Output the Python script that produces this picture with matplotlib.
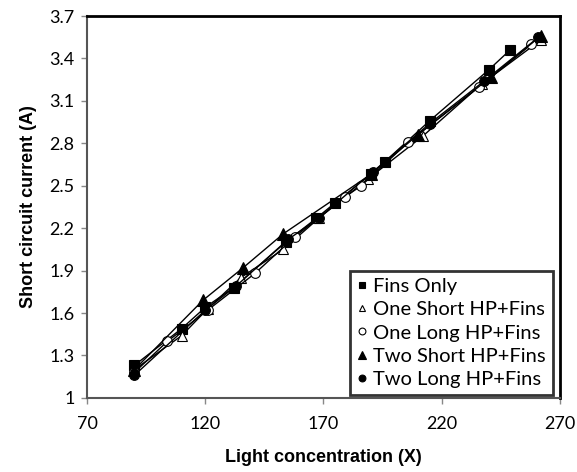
import matplotlib
matplotlib.use("Agg")
import matplotlib.pyplot as plt

# Data
fins_x = [90, 110, 120, 132, 154, 167, 175, 190, 196, 215, 240, 249]
fins_y = [1.23, 1.49, 1.64, 1.78, 2.10, 2.27, 2.38, 2.58, 2.67, 2.96, 3.32, 3.46]

one_short_x = [90, 110, 121, 135, 153, 168, 189, 212, 237, 262]
one_short_y = [1.20, 1.44, 1.63, 1.85, 2.05, 2.27, 2.55, 2.85, 3.22, 3.53]

one_long_x = [90, 104, 121, 141, 158, 179, 186, 206, 236, 258]
one_long_y = [1.18, 1.40, 1.62, 1.88, 2.14, 2.42, 2.50, 2.81, 3.20, 3.50]

two_short_x = [90, 119, 136, 153, 190, 210, 241, 262]
two_short_y = [1.20, 1.69, 1.92, 2.16, 2.58, 2.86, 3.27, 3.56]

two_long_x = [90, 120, 133, 155, 168, 191, 215, 238, 261]
two_long_y = [1.16, 1.62, 1.79, 2.12, 2.27, 2.60, 2.94, 3.24, 3.55]

labels = ["Fins Only", "One Short HP+Fins", "One Long HP+Fins",
          "Two Short HP+Fins", "Two Long HP+Fins"]
x_ticks = [70, 120, 170, 220, 270]
y_ticks = [1, 1.3, 1.6, 1.9, 2.2, 2.5, 2.8, 3.1, 3.4, 3.7]
y_tick_labels = ["1", "1.3", "1.6", "1.9", "2.2", "2.5", "2.8", "3.1", "3.4", "3.7"]

fig = plt.figure(figsize=(5.77, 4.72), dpi=100)
ax = fig.add_axes([0.151, 0.157, 0.819, 0.809])

series = [
    (fins_x, fins_y, dict(marker="s", mfc="black", ms=7)),
    (one_short_x, one_short_y, dict(marker="^", mfc="white", ms=7)),
    (one_long_x, one_long_y, dict(marker="o", mfc="white", ms=7)),
    (two_short_x, two_short_y, dict(marker="^", mfc="black", ms=8)),
    (two_long_x, two_long_y, dict(marker="o", mfc="black", ms=7)),
]
for (xs, ys, st), lab in zip(series, labels):
    ax.plot(xs, ys, color="black", lw=1.0, mec="black", mew=0.8, label=lab, **st)

ax.set_xlim(70, 270)
ax.set_ylim(1, 3.7)
ax.set_xticks(x_ticks)
ax.set_xticklabels([str(v) for v in x_ticks])
ax.set_yticks(y_ticks)
ax.set_yticklabels(y_tick_labels)

for lbl in ax.get_xticklabels() + ax.get_yticklabels():
    lbl.set_fontfamily(["Lato", "DejaVu Sans"])
    lbl.set_fontsize(13)
ax.tick_params(axis="both", direction="out", length=4, width=1, color="#888888", pad=5)
ax.tick_params(axis="x", pad=9)

for side in ["top", "right"]:
    ax.spines[side].set_linewidth(2)
    ax.spines[side].set_color("black")
for side in ["left", "bottom"]:
    ax.spines[side].set_linewidth(1.5)
    ax.spines[side].set_color("#555555")

ax.set_xlabel("Light concentration (X)", fontsize=13, fontweight="bold",
              family=["Liberation Sans", "DejaVu Sans"], labelpad=12)
ax.set_ylabel("Short circuit current (A)", fontsize=13, fontweight="bold",
              family=["Liberation Sans", "DejaVu Sans"], labelpad=9)

leg = ax.legend(loc="lower right", bbox_to_anchor=(0.985, 0.008),
                prop=dict(family=["Lato", "DejaVu Sans"], size=14.5),
                frameon=True, fancybox=False, handlelength=0.5,
                handletextpad=0.3, borderpad=0.35, labelspacing=0.3,
                borderaxespad=0.0, markerscale=0.7)
leg.get_frame().set_edgecolor("black")
leg.get_frame().set_linewidth(2)
for h in leg.get_lines():
    h.set_linestyle("none")

fig.savefig("out.png", dpi=100)
